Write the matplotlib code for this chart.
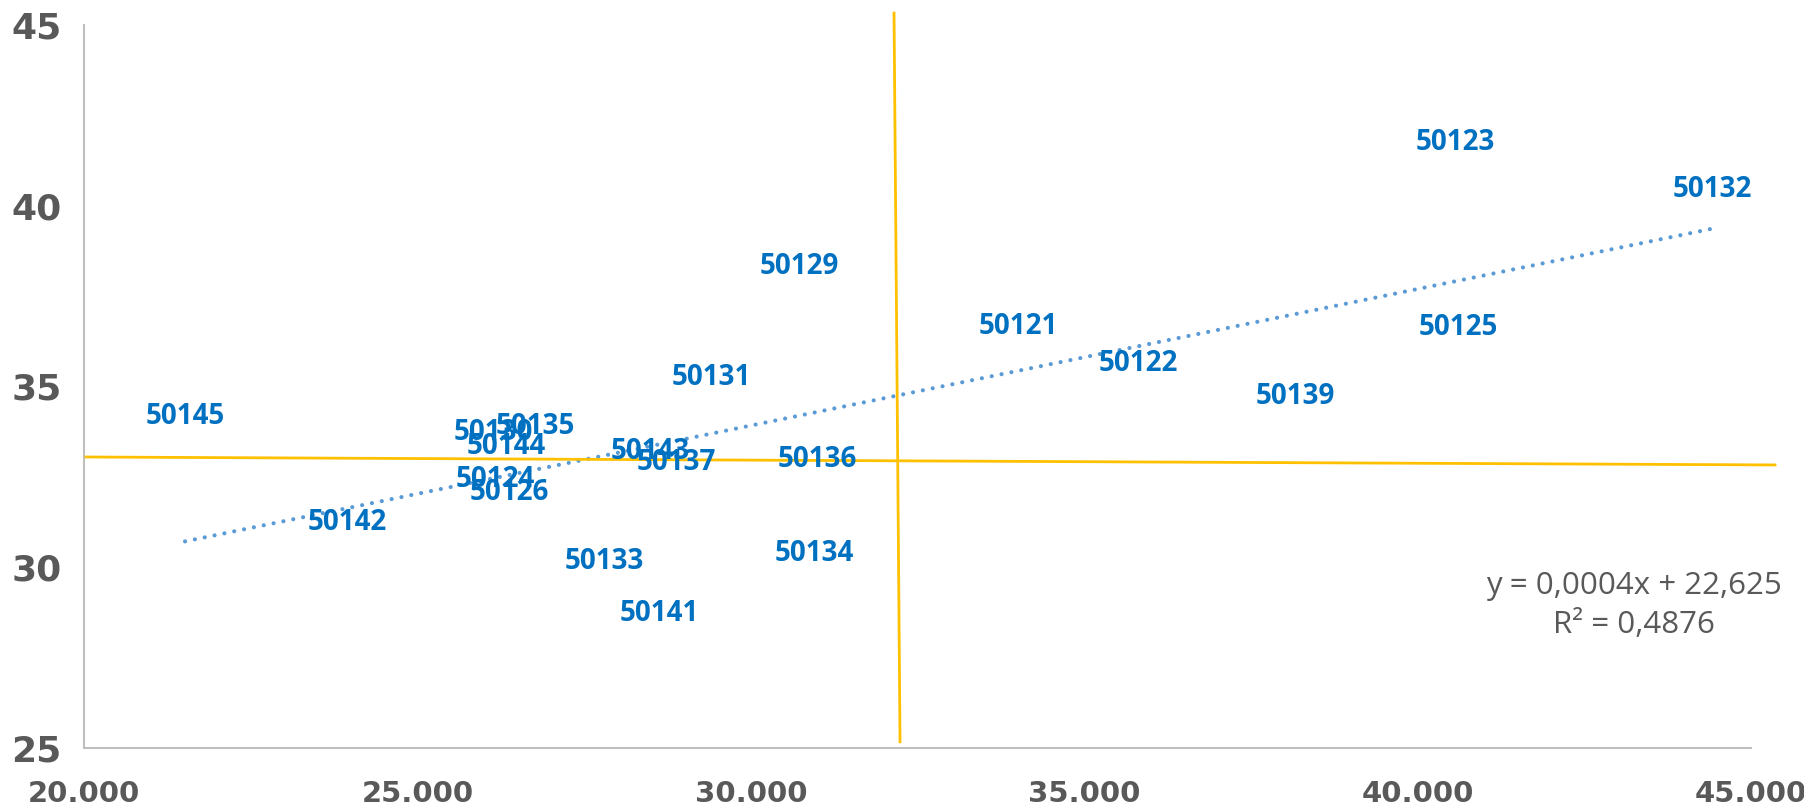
import numpy as np
import matplotlib
matplotlib.use("Agg")
import matplotlib.pyplot as plt
from matplotlib.ticker import FuncFormatter

# station ids and their (x, y) values
ids = ["50121", "50122", "50123", "50124", "50125", "50126", "50129",
       "50130", "50131", "50132", "50133", "50134", "50135", "50136",
       "50137", "50139", "50141", "50142", "50143", "50144", "50145"]
x_vals = [34007, 35807, 40561, 26164, 40606, 26374, 30723,
          26134, 29403, 44415, 27798, 30948, 26764, 30993,
          28878, 38161, 28623, 23944, 28488, 26329, 21515]
y_vals = [36.65, 35.65, 41.74, 32.44, 36.62, 32.08, 38.33,
          33.74, 35.24, 40.46, 30.15, 30.39, 33.88, 32.97,
          32.91, 34.71, 28.71, 31.25, 33.19, 33.33, 34.16]

# quadrant lines (hand drawn shapes in the original)
vline_x = [32148, 32238]
vline_y = [45.33, 25.17]
hline_x = [20030, 45360]
hline_y = [33.05, 32.83]

x_ticks = [20000, 25000, 30000, 35000, 40000, 45000]
y_ticks = [25, 30, 35, 40, 45]
eq_text = "y = 0,0004x + 22,625\nR² = 0,4876"

label_blue = "#0070C0"
trend_blue = "#5B9BD5"
yellow = "#FFC000"
grey_txt = "#595959"

fig = plt.figure(figsize=(18.04, 8.08), dpi=100)
ax = fig.add_axes([84 / 1804, 1 - 748 / 808, (1751 - 84) / 1804, (748 - 25) / 808])

ax.set_xlim(20000, 45000)
ax.set_ylim(25, 45)

# trendline
xs = np.array(x_vals)
ys = np.array(y_vals)
slope, inter = np.polyfit(xs, ys, 1)
tx = np.array([xs.min(), xs.max()])
ax.plot(tx, slope * tx + inter, color=trend_blue, lw=3,
        linestyle=(0, (0.01, 2.4)), dash_capstyle="round", zorder=2)

ax.plot(hline_x, hline_y, color=yellow, lw=2, clip_on=False, zorder=3)
ax.plot(vline_x, vline_y, color=yellow, lw=2, clip_on=False, zorder=3)

for name, xv, yv in zip(ids, x_vals, y_vals):
    ax.text(xv, yv, name, ha="center", va="center", color=label_blue,
            fontsize=20, fontweight="bold", family=["Open Sans", "DejaVu Sans"],
            zorder=4)

ax.text(0.93, 0.197, eq_text, transform=ax.transAxes, ha="center", va="center",
        color=grey_txt, fontsize=22.5, family=["Open Sans", "DejaVu Sans"],
        linespacing=1.4)

ax.set_xticks(x_ticks)
ax.set_yticks(y_ticks)
ax.xaxis.set_major_formatter(FuncFormatter(lambda v, p: f"{int(v):,}".replace(",", ".")))
ax.tick_params(length=0)
ax.tick_params(axis="x", pad=23)
ax.tick_params(axis="y", pad=16)
for lab in ax.get_xticklabels():
    lab.set_fontsize(21)
    lab.set_fontweight("bold")
    lab.set_color(grey_txt)
for lab in ax.get_yticklabels():
    lab.set_fontsize(26)
    lab.set_fontweight("bold")
    lab.set_color(grey_txt)

for s in ["top", "right"]:
    ax.spines[s].set_visible(False)
for s in ["left", "bottom"]:
    ax.spines[s].set_color("#BFBFBF")
    ax.spines[s].set_linewidth(1.5)

fig.savefig("out.png", dpi=100)
